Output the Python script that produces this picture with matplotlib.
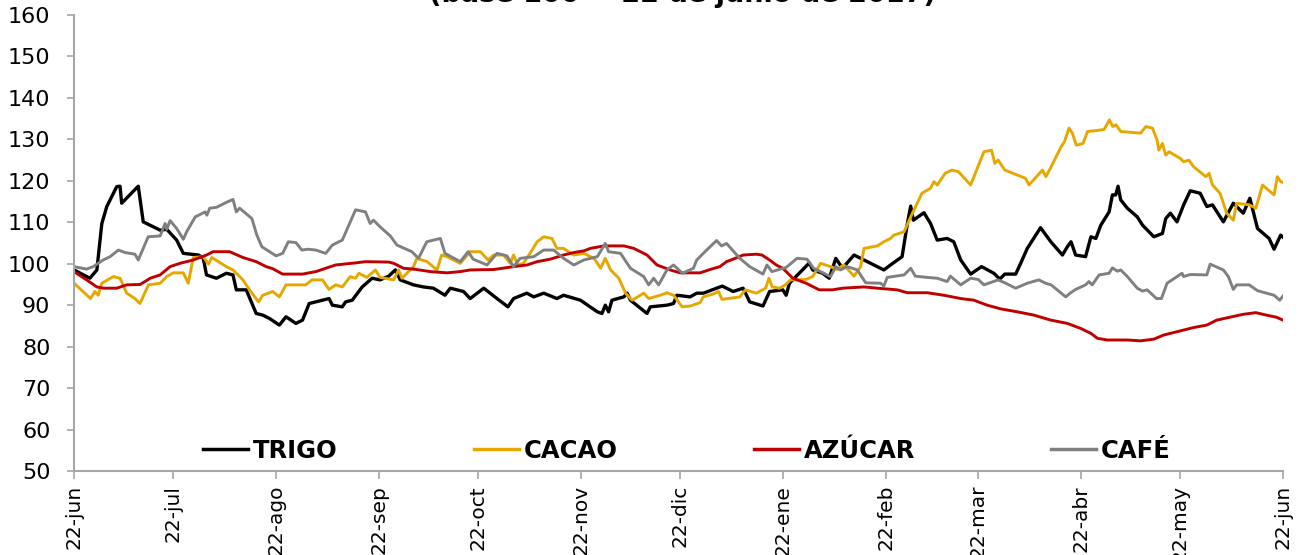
import matplotlib
matplotlib.use("Agg")
import matplotlib.pyplot as plt
import matplotlib.dates as mdates
import numpy as np
from datetime import datetime

# ---- data (days since 22-jun-2017, index base 100) ----
trigo_dias = [0, 4.8, 6.9, 8.4, 9.9, 12.9, 13.9, 14.4, 19.4, 20.9, 26, 28, 31, 33, 37.6, 39, 40, 43, 46, 48,
              49, 52, 55, 57, 59, 62, 64, 67, 69, 71, 75, 77, 78, 81, 82, 84, 87, 90, 92.4, 95,
              97, 98.5, 102.5, 105.5, 108.5, 112, 113.6, 117.6, 119.6, 123.7, 127.7, 131, 132.7, 136.7, 138.8, 141.8,
              145.8, 147.8, 152.9, 158, 159.4, 160.4, 161.4, 162.4, 166, 167, 168, 173, 174, 179, 181, 182,
              186, 188, 190, 195.7, 199, 202, 204, 208, 210, 214, 215, 216, 222, 223, 226, 228, 230, 232,
              235.5, 238.5, 244.5, 246.5, 250, 251.6, 252.6, 253.4, 256.6, 258.6, 260.6, 263.6, 265.6, 267.7,
              270.7, 274, 277.7, 279.5, 281, 284.3, 285.8, 287.8, 291.8, 294.9, 298.4, 299.9, 301, 302.4,
              305.4, 307, 308.5, 310, 312.5, 313.5, 314.5, 315.2, 316, 318, 321, 322.6, 326, 328.6, 329.6,
              331, 333, 335, 337, 340, 342, 343.7, 347, 350, 353, 355, 357.3, 360.8, 362.3, 364.3, 365]
trigo = [98.5, 96.5, 98.5, 109.7, 113.8, 118.6, 118.7, 114.6, 118.7, 110.1, 108.1, 108.3, 105.7, 102.5, 102.1, 101.4, 97.3, 96.5, 97.7, 97.3,
         93.7, 93.7, 88.0, 87.6, 86.8, 85.2, 87.2, 85.6, 86.4, 90.4, 91.2, 91.6, 90.0, 89.6, 90.8, 91.2, 94.4, 96.5, 96.1, 97.0,
         98.5, 96.1, 94.9, 94.4, 94.1, 92.4, 94.1, 93.3, 91.6, 94.1, 91.6, 89.6, 91.6, 92.9, 92.0, 92.9,
         91.6, 92.4, 91.2, 88.4, 88.0, 90.0, 88.4, 91.2, 92.0, 92.9, 91.2, 88.0, 89.6, 90.0, 90.4, 92.4,
         92.0, 92.9, 92.9, 94.6, 93.3, 94.1, 90.8, 89.8, 93.3, 93.7, 92.4, 95.3, 100.2, 98.5, 97.7, 96.5, 101.3, 98.9,
         102.1, 100.9, 98.5, 99.7, 101.7, 109.7, 113.9, 110.5, 112.3, 109.7, 105.7, 106.1, 105.3, 100.9,
         97.5, 99.3, 97.7, 96.3, 97.5, 97.5, 100.1, 103.7, 108.7, 105.3, 102.1, 104.1, 105.3, 102.1,
         101.7, 106.5, 106.1, 109.3, 112.5, 116.6, 116.6, 118.7, 115.4, 113.4, 111.3, 109.3, 106.5, 107.3, 110.9,
         112.2, 110.1, 114.2, 117.6, 117.0, 113.8, 114.2, 110.1, 114.6, 112.2, 115.8, 108.5, 106.1, 103.5, 106.9, 106.4]

cacao_dias = [0, 5, 6.3, 7.3, 8.4, 11.9, 13.9, 15.9, 18.4, 19.9, 22.5, 26, 28, 30, 33, 34.5, 36, 39, 40.6, 41.6,
              46, 48, 51, 53, 55.7, 57, 60, 62, 64, 70, 71.8, 75, 77, 79, 81, 83.4, 85, 86, 88.4, 91,
              92.4, 96.5, 98, 99, 102.5, 103.5, 106.6, 109.6, 111, 112.6, 116.6, 119.6, 122.7, 125, 126.7, 129.7,
              131.7, 132.7, 134, 135.7, 138.3, 139.8, 141.8, 144.3, 145.8, 147.8, 150.9, 153.9, 157, 159, 160.4,
              162, 164.5, 166.5, 168.5, 172, 173.5, 177, 179, 181, 183.6, 186, 189, 190, 193, 194.6, 195.6,
              201, 202.7, 206, 208.8, 209.8, 210.8, 213, 214.8, 216.3, 221, 223, 225.4, 228.4, 230.4, 232.4,
              235.5, 237.5, 238.5, 242.5, 244.5, 246.5, 247.5, 250.6, 252.6, 256, 258.6, 259.6, 260.6, 263, 265,
              267, 270.7, 272.7, 274.7, 277, 278, 279, 281, 287.3, 288.3, 292.4, 293.4, 295, 298, 299, 300.4,
              301.4, 302.6, 304.6, 306, 308.5, 311, 312.6, 313.6, 314.6, 316, 322, 323.6, 325.6, 327, 327.5,
              328.6, 329.6, 330.6, 334, 335, 336.6, 338, 341.7, 342.7, 343.7, 346, 348, 350, 351, 354.8, 356.8,
              358.8, 362.3, 363.3, 364.3, 365]
cacao = [95.3, 91.6, 93.3, 92.4, 95.3, 96.9, 96.5, 92.9, 91.6, 90.4, 94.9, 95.3, 96.9, 97.8, 97.8, 95.3, 101.5, 101.7, 99.9, 101.5,
         99.3, 98.5, 96.1, 93.7, 90.8, 92.4, 93.3, 92.0, 94.9, 94.9, 96.1, 96.1, 93.8, 94.9, 94.4, 96.9, 96.5, 97.7, 96.7, 98.5,
         96.7, 96.1, 98.5, 96.5, 99.3, 101.3, 100.5, 98.5, 102.1, 101.7, 100.1, 102.9, 102.9, 100.9, 102.1, 102.1,
         100.1, 102.1, 99.7, 100.1, 103.3, 105.3, 106.5, 106.1, 103.7, 103.7, 102.1, 102.5, 101.3, 98.9, 101.3,
         98.5, 96.5, 92.9, 91.2, 92.9, 91.6, 92.4, 93.0, 92.4, 89.6, 89.8, 90.6, 92.0, 92.7, 93.3, 91.4,
         92.0, 93.7, 92.9, 94.1, 96.5, 94.4, 94.1, 94.9, 96.1, 96.2, 96.9, 100.1, 99.3, 98.6, 99.7,
         97.0, 99.3, 103.7, 104.3, 105.3, 106.1, 106.9, 107.7, 111.3, 117.0, 118.2, 119.8, 119.0, 121.8, 122.6,
         122.2, 119.0, 123.0, 127.0, 127.4, 124.2, 125.0, 122.6, 120.6, 119.0, 122.6, 121.0, 123.4, 128.2, 129.4, 132.7,
         131.5, 128.6, 129.0, 131.9, 132.1, 132.4, 134.7, 133.1, 133.5, 131.9, 131.5, 133.1, 132.7, 129.8, 127.4,
         129.0, 126.2, 127.0, 125.4, 124.6, 125.0, 123.4, 121.0, 121.8, 119.0, 117.0, 112.2, 110.5, 114.6, 114.2, 113.4,
         119.0, 116.6, 121.0, 119.8, 119.6]

azucar_dias = [0, 3.8, 6.9, 8.9, 12.9, 15.9, 20, 23, 26, 29, 32, 36, 40, 42, 47, 51, 55, 58, 60, 63,
               69, 73, 76, 79, 85, 88, 95, 96.5, 99.5, 102.5, 107.6, 112.6, 116.6, 119.6, 126.7, 132.7, 136.8, 139.8,
               143.8, 147.8, 150.9, 153.9, 155.9, 160, 166, 169, 173, 176, 180, 183, 189, 192, 195, 197, 199, 202,
               206, 207.7, 210, 212, 214, 217, 221, 225, 229, 232, 238.5, 242.5, 248.5, 251.6, 257.6, 262.6,
               267.7, 271.7, 275.7, 279.8, 284.8, 289.8, 294.9, 299.9, 303.9, 307, 309, 312, 318, 322, 326,
               329, 334, 338, 342, 345, 349, 353, 356.8, 360, 363, 365]
azucar = [98.1, 96.1, 94.4, 94.1, 94.1, 94.9, 95.0, 96.5, 97.3, 99.3, 100.1, 100.9, 102.1, 102.9, 102.9, 101.5, 100.5, 99.3, 98.8, 97.5,
          97.5, 98.1, 98.9, 99.7, 100.2, 100.5, 100.4, 100.1, 98.9, 98.7, 98.1, 97.8, 98.1, 98.5, 98.6, 99.3, 99.7, 100.5,
          101.1, 102.1, 102.7, 103.1, 103.7, 104.3, 104.3, 103.7, 102.1, 99.7, 98.5, 97.8, 97.8, 98.6, 99.3, 100.5, 101.1, 102.1,
          102.3, 102.1, 100.9, 99.7, 98.9, 96.5, 95.3, 93.7, 93.7, 94.1, 94.4, 94.1, 93.7, 93.0, 93.0, 92.4,
          91.6, 91.2, 90.0, 89.1, 88.4, 87.6, 86.4, 85.6, 84.4, 83.2, 82.0, 81.6, 81.6, 81.4, 81.8,
          82.8, 83.8, 84.6, 85.2, 86.4, 87.1, 87.8, 88.2, 87.6, 87.1, 86.4]

cafe_dias = [0, 3.8, 5.8, 7.3, 8.8, 10.9, 13.4, 15.4, 18.4, 19.4, 22.4, 26, 27.5, 28, 29, 31, 33, 34, 36.6, 39.6,
             40.1, 41, 43, 46, 48, 49, 50, 53.7, 55.2, 56.7, 61, 63, 64.7, 67, 68.8, 70.7, 73, 76, 78, 81,
             83.4, 85, 88, 89.4, 90.4, 92.4, 95.5, 97.5, 102, 104, 106.5, 110.6, 112, 116.6, 119, 120.5, 124.7,
             127.7, 130.7, 132.7, 134.7, 138.8, 141.8, 144.8, 147.8, 150.9, 153.9, 158, 160.4, 161.4, 165, 168,
             172, 173.5, 175, 176.5, 179, 181, 183.7, 187, 188, 191, 194, 195.5, 197, 201, 204, 208, 209.2,
             210.7, 215, 218.3, 221.3, 223.3, 228.4, 230, 231.4, 233.4, 236.5, 239, 243.5, 244.5, 245.5, 250.6,
             252.6, 254, 257.6, 260.6, 263.6, 264.6, 267.7, 270.7, 273, 274.7, 279, 281, 284.3, 287.8, 291.3,
             293.3, 295, 299.4, 300.9, 302.4, 305.4, 306.4, 307.4, 309.5, 312.5, 313.5, 315, 316, 318, 321,
             322.6, 324, 326.8, 328.3, 330, 333, 334.5, 335, 337, 342, 343, 347, 348.5, 350, 351, 354.8,
             357.3, 362.3, 364, 365]
cafe = [99.3, 98.7, 99.3, 100.1, 100.9, 101.7, 103.3, 102.7, 102.3, 100.9, 106.5, 106.7, 109.7, 108.3, 110.4, 108.5, 105.9, 107.7, 111.3, 112.5,
        111.7, 113.4, 113.6, 114.8, 115.5, 112.5, 113.4, 110.9, 106.9, 104.1, 101.9, 102.5, 105.3, 105.1, 103.3, 103.5, 103.3, 102.5, 104.5, 105.7,
        110.1, 113.0, 112.5, 109.7, 110.5, 108.9, 106.7, 104.5, 102.9, 101.3, 105.3, 106.1, 102.5, 100.5, 102.9, 101.1, 99.7,
        102.5, 101.9, 99.3, 101.3, 101.7, 103.3, 103.3, 101.3, 99.7, 100.9, 101.7, 104.9, 102.9, 102.5, 98.9,
        96.9, 94.9, 96.5, 94.9, 98.5, 99.7, 97.7, 98.9, 100.9, 103.3, 105.6, 104.3, 104.9, 101.3, 99.3, 97.5, 99.7,
        98.1, 99.1, 101.3, 101.1, 98.9, 96.9, 99.3, 98.5, 99.3, 98.5, 95.4, 95.3, 94.6, 96.7, 97.3,
        98.9, 97.0, 96.7, 96.5, 95.7, 97.0, 94.9, 96.5, 96.2, 94.9, 96.1, 95.4, 94.1, 95.3, 96.1,
        95.3, 94.9, 92.0, 93.0, 93.8, 94.9, 95.7, 94.9, 97.3, 97.7, 99.0, 98.2, 98.5, 96.9, 94.1,
        93.4, 93.7, 91.6, 91.6, 95.3, 96.9, 97.7, 96.9, 97.4, 97.3, 99.9, 98.5, 96.9, 93.8, 94.9, 94.9,
        93.5, 92.4, 91.2, 92.2]

series_nombres = ["TRIGO", "CACAO", "AZÚCAR", "CAFÉ"]
series_colores = ["#000000", "#E6A700", "#C00000", "#808080"]
series_grosor = [2.4, 2.1, 2.1, 2.1]

tick_fechas = ["2017-06-22", "2017-07-22", "2017-08-22", "2017-09-22", "2017-10-22", "2017-11-22",
               "2017-12-22", "2018-01-22", "2018-02-22", "2018-03-22", "2018-04-22", "2018-05-22", "2018-06-22"]
tick_etiquetas = ["22-jun", "22-jul", "22-ago", "22-sep", "22-oct", "22-nov", "22-dic",
                  "22-ene", "22-feb", "22-mar", "22-abr", "22-may", "22-jun"]
titulo = "(base 100 = 22 de junio de 2017)"

# ---- plot ----
plt.rcParams['font.family'] = ['DejaVu Sans']
fig = plt.figure(figsize=(13.08, 5.55), dpi=100)
ax = fig.add_axes([74 / 1308, 1 - 471 / 555, (1283 - 74) / 1308, (471 - 15) / 555])

base = mdates.date2num(datetime(2017, 6, 22))
datos = [(trigo_dias, trigo), (cacao_dias, cacao), (azucar_dias, azucar), (cafe_dias, cafe)]
for (d, v), nom, col, lw in zip(datos, series_nombres, series_colores, series_grosor):
    ax.plot(base + np.array(d), v, color=col, lw=lw, label=nom, solid_joinstyle='round')

ticks = [mdates.date2num(datetime.strptime(t, "%Y-%m-%d")) for t in tick_fechas]
ax.set_xticks(ticks)
ax.set_xticklabels(tick_etiquetas, rotation=90, fontsize=14.5)
ax.set_xlim(ticks[0], ticks[-1])
ax.set_ylim(50, 160)
ax.set_yticks(np.arange(50, 161, 10))
ax.tick_params(axis='y', labelsize=16, length=5, color='#A6A6A6', width=1.2, pad=12)
ax.tick_params(axis='x', length=6, color='#A6A6A6', width=1.2, pad=4)

for s in ['top', 'right']:
    ax.spines[s].set_visible(False)
for s in ['left', 'bottom']:
    ax.spines[s].set_color('#A6A6A6')
    ax.spines[s].set_linewidth(1.5)

leg = ax.legend(loc='center', bbox_to_anchor=(0.507, 0.044), ncol=4, frameon=False,
                prop={'weight': 'bold', 'size': 17.5}, handlelength=1.85, handletextpad=0.2,
                columnspacing=5.6, borderaxespad=0)
for h in leg.get_lines():
    h.set_linewidth(2.5)

fig.text(0.522, 1 - 1.5 / 555, titulo, ha='center', va='baseline', fontsize=19.5, fontweight='bold')

fig.savefig("out.png", dpi=100)
